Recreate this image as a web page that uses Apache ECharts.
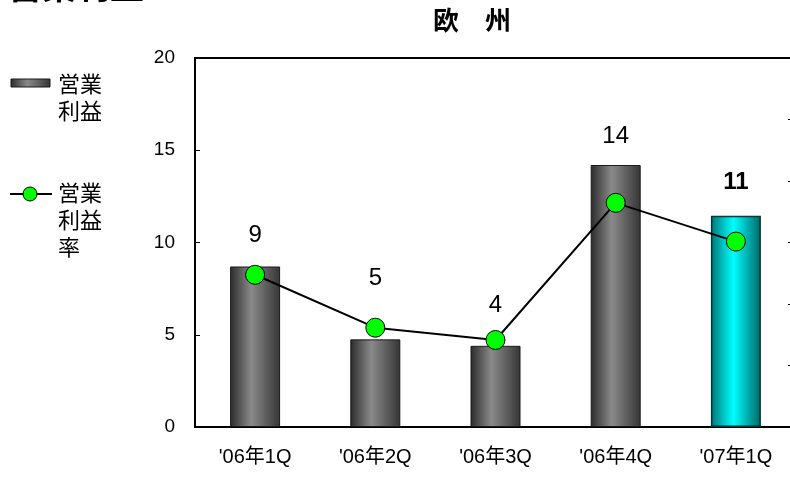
<!DOCTYPE html>
<html>
<head>
<meta charset="utf-8">
<script src="https://cdn.jsdelivr.net/npm/echarts@6/dist/echarts.min.js"></script>
<style>
html,body{margin:0;padding:0;background:#fff;}
#chart{width:790px;height:477px;}
</style>
</head>
<body>
<div id="chart"></div>
<script>
const categories = ["'06年1Q", "'06年2Q", "'06年3Q", "'06年4Q", "'07年1Q"];
const operatingProfit = [8.7, 4.75, 4.4, 14.2, 11.45];
const profitLabels = ["9", "5", "4", "14", "11"];
const operatingMargin = [4.95, 3.23, 2.83, 7.29, 6.03];
const leftTicks = [0, 5, 10, 15, 20];
const seriesNames = ["営業利益", "営業利益率"];

const FONT = '"Liberation Sans","Noto Sans CJK JP",sans-serif';
const labelLift = [-14, -44, -23, -12, -16];

const grayGrad = new echarts.graphic.LinearGradient(0, 0, 1, 0, [
  {offset: 0, color: '#2b2b2b'},
  {offset: 0.42, color: '#8a8a8a'},
  {offset: 1, color: '#353535'}
]);
const cyanGrad = new echarts.graphic.LinearGradient(0, 0, 1, 0, [
  {offset: 0, color: '#007575'},
  {offset: 0.45, color: '#00ffff'},
  {offset: 1, color: '#006565'}
]);

const chart = echarts.init(document.getElementById('chart'), null, {renderer: 'canvas'});

const barData = operatingProfit.map((v, i) => {
  const last = i === operatingProfit.length - 1;
  return {
    value: v,
    itemStyle: last ? {color: cyanGrad, borderColor: '#003838', borderWidth: 1.5} : undefined,
    label: {offset: [0, labelLift[i]], fontWeight: last ? 'bold' : 'normal'}
  };
});

chart.setOption({
  animation: false,
  backgroundColor: '#fff',
  textStyle: {fontFamily: FONT},
  grid: {left: 195, width: 601, top: 58, height: 369, show: true, borderColor: '#000', borderWidth: 2, containLabel: false, outerBoundsMode: 'none'},
  xAxis: {
    type: 'category',
    data: categories,
    axisLine: {lineStyle: {color: '#000', width: 2}},
    axisTick: {show: false},
    axisLabel: {color: '#000', fontSize: 20, margin: 20, fontFamily: FONT}
  },
  yAxis: [{
    type: 'value',
    min: leftTicks[0],
    max: leftTicks[leftTicks.length - 1],
    interval: leftTicks[1] - leftTicks[0],
    axisLine: {show: true, lineStyle: {color: '#000', width: 2}},
    axisTick: {show: true, inside: true, length: 5, lineStyle: {color: '#000'}},
    axisLabel: {color: '#000', fontSize: 19, margin: 20, fontFamily: FONT},
    splitLine: {show: false}
  }, {
    type: 'value',
    position: 'right',
    min: 0,
    max: 12,
    interval: 2,
    axisLine: {show: true, lineStyle: {color: '#000', width: 2}},
    axisTick: {show: true, inside: true, length: 8, lineStyle: {color: '#000'}},
    axisLabel: {show: false},
    splitLine: {show: false}
  }],
  series: [{
    name: seriesNames[0],
    type: 'bar',
    yAxisIndex: 0,
    barWidth: 50,
    data: barData,
    itemStyle: {color: grayGrad, borderColor: '#1a1a1a', borderWidth: 1},
    label: {
      show: true,
      position: 'top',
      distance: 5,
      color: '#000',
      fontSize: 24,
      fontFamily: FONT,
      formatter: p => profitLabels[p.dataIndex]
    },
    z: 2
  }, {
    name: seriesNames[1],
    type: 'line',
    yAxisIndex: 1,
    data: operatingMargin,
    symbol: 'circle',
    symbolSize: 19,
    lineStyle: {color: '#000', width: 2},
    itemStyle: {color: '#00ff00', borderColor: '#000', borderWidth: 1},
    z: 5
  }],
  graphic: [
    {type: 'text', x: 8, y: -27, style: {text: '営業利益', font: 'bold 34px ' + FONT, fill: '#000'}},
    {type: 'text', x: 472, y: 10, style: {text: '欧　州', font: 'bold 26px ' + FONT, fill: '#000', align: 'center'}},
    {type: 'rect', shape: {x: 11, y: 79, width: 39, height: 8}, style: {fill: grayGrad, stroke: '#1a1a1a', lineWidth: 1}},
    {type: 'text', x: 58, y: 72, style: {text: seriesNames[0].slice(0, 2) + '\n' + seriesNames[0].slice(2), font: '22px ' + FONT, lineHeight: 27, fill: '#000'}},
    {type: 'line', shape: {x1: 10, y1: 194, x2: 52, y2: 194}, style: {stroke: '#000', lineWidth: 2}},
    {type: 'circle', shape: {cx: 30, cy: 194, r: 7}, style: {fill: '#00ff00', stroke: '#000', lineWidth: 1}},
    {type: 'text', x: 58, y: 181, style: {text: seriesNames[1].slice(0, 2) + '\n' + seriesNames[1].slice(2, 4) + '\n' + seriesNames[1].slice(4), font: '22px ' + FONT, lineHeight: 27, fill: '#000'}}
  ]
});
</script>
</body>
</html>
